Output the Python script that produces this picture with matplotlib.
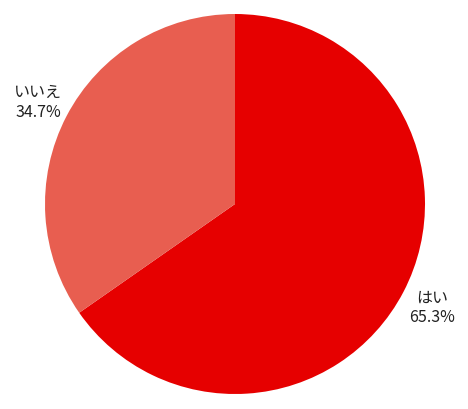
import matplotlib
matplotlib.use("Agg")
import matplotlib.pyplot as plt

categories = ["はい", "いいえ"]
values = [65.3, 34.7]
colors = ["#E60000", "#E85E50"]

plt.rcParams['font.family'] = ['Noto Sans CJK JP', 'DejaVu Sans']

fig = plt.figure(figsize=(4.68, 4.10), dpi=100)
ax = fig.add_axes([0, 0, 1, 1])

labels = [f"{c}\n{v:.1f}%" for c, v in zip(categories, values)]
wedges, texts = ax.pie(values, labels=labels, colors=colors, startangle=90,
                       counterclock=False, center=(235, 205), radius=190,
                       labeldistance=1.17, frame=True,
                       textprops=dict(fontsize=11.5, color="#222222", linespacing=1.2),
                       wedgeprops=dict(linewidth=0))
for t in texts:
    t.set_horizontalalignment('center')
    t.set_verticalalignment('center')
ax.set_xlim(0, 468)
ax.set_ylim(0, 410)
ax.set_aspect('equal')
ax.axis('off')
fig.savefig("out.png", dpi=100)
